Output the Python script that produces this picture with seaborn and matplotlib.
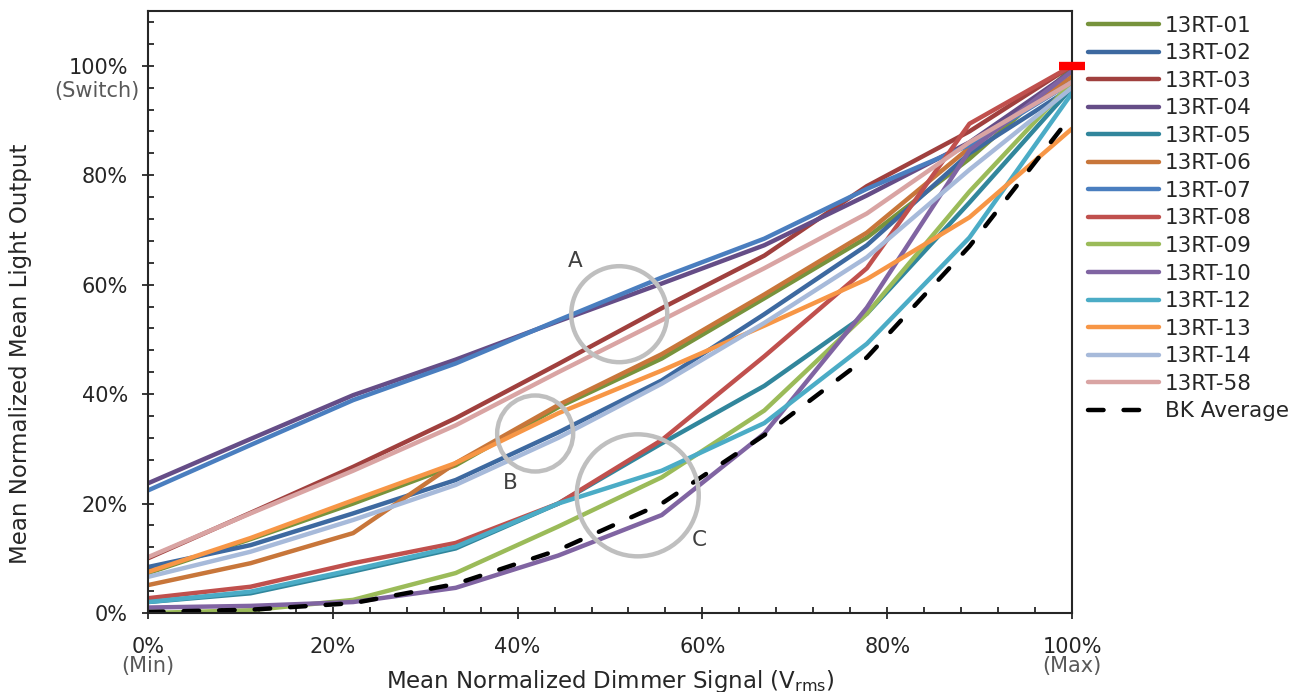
import numpy as np
import pandas as pd
import matplotlib
matplotlib.use("Agg")
import matplotlib.pyplot as plt
from matplotlib.patches import Ellipse
from matplotlib.ticker import MultipleLocator, PercentFormatter
import seaborn as sns

sns.set_style("white")
plt.rcParams['font.family'] = ['DejaVu Sans']

# dimmer signal steps (fraction of max)
signal = [0.0, 0.111, 0.222, 0.333, 0.444, 0.556, 0.667, 0.778, 0.889, 1.0]

# light output, percent
rt01 = [7.3, 13.5, 20.0, 27.0, 37.6, 46.5, 57.5, 68.6, 83.0, 99.5]
rt02 = [8.4, 12.4, 18.2, 24.3, 33.0, 42.5, 54.6, 67.2, 84.0, 96.0]
rt03 = [10.0, 18.3, 26.7, 35.6, 45.5, 55.7, 65.3, 78.0, 88.0, 100.0]
rt04 = [23.7, 31.8, 39.8, 46.3, 53.3, 60.2, 67.2, 76.3, 86.0, 99.0]
rt05 = [2.0, 3.6, 7.6, 11.8, 20.0, 31.0, 41.5, 54.7, 75.0, 96.0]
rt06 = [5.1, 9.1, 14.6, 27.4, 38.0, 47.3, 58.2, 69.5, 85.0, 98.0]
rt07 = [22.4, 30.7, 38.9, 45.6, 53.5, 61.3, 68.4, 77.5, 85.5, 97.0]
rt08 = [2.7, 4.8, 9.1, 12.8, 20.0, 31.6, 46.9, 63.0, 89.4, 100.0]
rt09 = [0.0, 0.5, 2.4, 7.3, 15.8, 24.8, 37.0, 54.7, 77.0, 97.0]
rt10 = [1.0, 1.3, 2.0, 4.6, 10.5, 17.9, 32.8, 55.8, 84.5, 99.0]
rt12 = [2.0, 3.9, 7.9, 12.1, 20.0, 26.0, 34.7, 49.2, 68.6, 95.0]
rt13 = [7.5, 13.7, 20.6, 27.4, 36.5, 44.3, 52.5, 61.0, 72.3, 88.5]
rt14 = [6.6, 11.2, 17.0, 23.4, 32.0, 41.9, 53.0, 65.0, 81.0, 96.0]
rt58 = [10.2, 18.2, 26.0, 34.3, 44.0, 53.5, 63.0, 73.0, 86.0, 97.0]
bk_avg = [0.2, 0.6, 1.8, 5.3, 11.5, 20.0, 32.5, 46.7, 67.0, 91.0]

series = {
    "13RT-01": rt01, "13RT-02": rt02, "13RT-03": rt03, "13RT-04": rt04,
    "13RT-05": rt05, "13RT-06": rt06, "13RT-07": rt07, "13RT-08": rt08,
    "13RT-09": rt09, "13RT-10": rt10, "13RT-12": rt12, "13RT-13": rt13,
    "13RT-14": rt14, "13RT-58": rt58, "BK Average": bk_avg,
}

colors = {
    "13RT-01": "#77933C", "13RT-02": "#3D69A0", "13RT-03": "#A0403E",
    "13RT-04": "#654D87", "13RT-05": "#31869C", "13RT-06": "#C8763A",
    "13RT-07": "#4A7EBF", "13RT-08": "#C0504D", "13RT-09": "#9BBB59",
    "13RT-10": "#8064A2", "13RT-12": "#4BACC6", "13RT-13": "#F79646",
    "13RT-14": "#A7BADA", "13RT-58": "#D9A4A3", "BK Average": "#000000",
}

rows = []
for name, vals in series.items():
    for s, v in zip(signal, vals):
        rows.append((name, s, v / 100))
df = pd.DataFrame(rows, columns=["Unit", "Signal", "Output"])

dash_map = {k: "" for k in series}
dash_map["BK Average"] = (3.5, 4.5)

fig = plt.figure(figsize=(13.14, 6.92), dpi=100)
ax = fig.add_axes([148 / 1314, 79 / 692, 924 / 1314, 602 / 692])

sns.lineplot(data=df, x="Signal", y="Output", hue="Unit", style="Unit",
             palette=colors, dashes=dash_map, linewidth=3.2, ax=ax,
             solid_capstyle="round", dash_capstyle="round")

ax.set_xlim(0, 1.0)
ax.set_ylim(0, 1.10)
ax.xaxis.set_major_locator(MultipleLocator(0.2))
ax.xaxis.set_minor_locator(MultipleLocator(0.04))
ax.yaxis.set_major_locator(MultipleLocator(0.2))
ax.yaxis.set_minor_locator(MultipleLocator(0.04))
ax.xaxis.set_major_formatter(PercentFormatter(1.0, decimals=0))
ax.yaxis.set_major_formatter(PercentFormatter(1.0, decimals=0))

ink = "#262626"
fs = 15
for sp in ax.spines.values():
    sp.set_visible(True)
    sp.set_color(ink)
    sp.set_linewidth(1.5)
ax.tick_params(which="major", direction="inout", length=9, width=1.3,
               color=ink, labelsize=fs, labelcolor=ink)
ax.tick_params(which="minor", direction="in", length=4, width=1.3, color=ink)
ax.tick_params(axis="x", which="major", pad=13, bottom=True)
ax.tick_params(axis="y", which="major", pad=10, left=True)
ax.tick_params(axis="both", which="minor", bottom=True, left=True)

ax.set_xlabel("Mean Normalized Dimmer Signal (V$_{\\mathregular{rms}}$)",
              fontsize=16.5, color=ink, va="center")
ax.xaxis.set_label_coords(0.5, -0.113)
ax.set_ylabel("Mean Normalized Mean Light Output", fontsize=16.5, color=ink,
              va="center")
ax.yaxis.set_label_coords(-0.138, 0.43)

gray = "#595959"
ax.text(-0.0552, 0.953, "(Switch)", transform=ax.get_yaxis_transform(),
        ha="center", va="center", fontsize=fs, color=gray)
ax.text(0.0, -0.088, "(Min)", transform=ax.get_xaxis_transform(),
        ha="center", va="center", fontsize=fs, color=gray)
ax.text(1.0, -0.088, "(Max)", transform=ax.get_xaxis_transform(),
        ha="center", va="center", fontsize=fs, color=gray)

# highlight circles (pixel radius -> data units)
px_x = 924 / 1.0
px_y = 602 / 1.10
circles = [("A", 0.51, 0.546, 48, 0.462, 0.644),
           ("B", 0.419, 0.328, 38, 0.392, 0.237),
           ("C", 0.53, 0.215, 61, 0.597, 0.133)]
for lab, cx, cy, r, tx, ty in circles:
    ax.add_patch(Ellipse((cx, cy), 2 * r / px_x, 2 * r / px_y, fill=False,
                         edgecolor="#BFBFBF", linewidth=3.2, zorder=5))
    ax.text(tx, ty, lab, fontsize=15.5, color="#404040", ha="center",
            va="center", zorder=6)

# switch-on marker
ax.plot([1.0], [1.0], marker="_", markersize=19, markeredgewidth=6,
        color="#FF0000", clip_on=False, zorder=7)

handles, labels = ax.get_legend_handles_labels()
for h in handles:
    h.set_linewidth(3.2)
ax.legend(handles, labels, loc="upper left", bbox_to_anchor=(1.0, 1.019),
          frameon=False, fontsize=15.5, handlelength=3.3, handletextpad=0.25,
          labelspacing=0.35, borderaxespad=0.6, borderpad=0.15)

fig.savefig("out.png", dpi=100)
